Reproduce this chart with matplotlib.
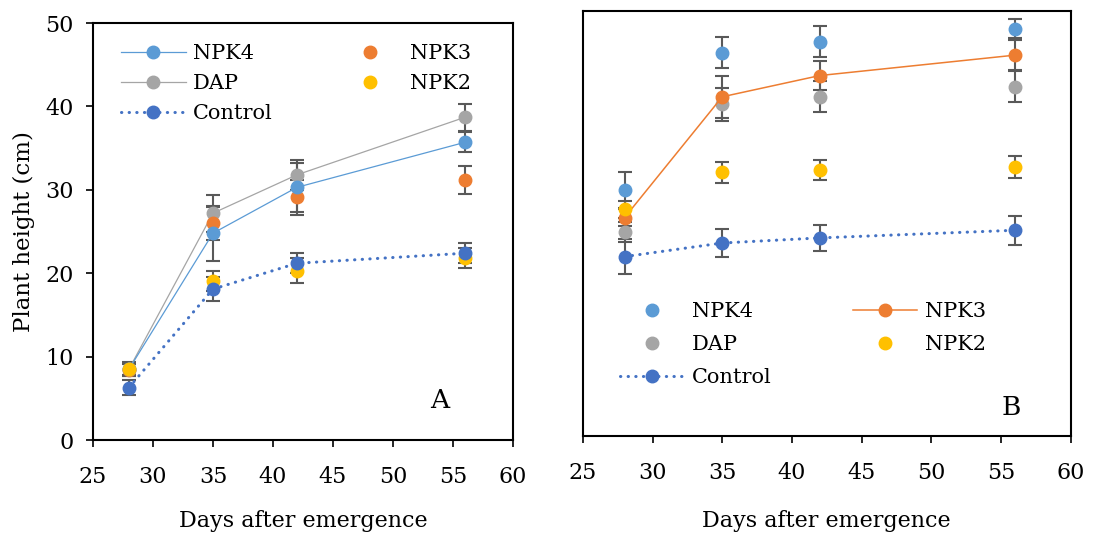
import matplotlib
matplotlib.use("Agg")
import matplotlib.pyplot as plt
from matplotlib.lines import Line2D

plt.rcParams['font.family'] = ['DejaVu Serif']

days = [28, 35, 42, 56]

# Panel A
npk4_a = [8.5, 24.8, 30.3, 35.7]
npk4_a_err = [0.7, 3.3, 2.9, 1.2]
dap_a = [8.5, 27.2, 31.8, 38.7]
dap_a_err = [0.7, 2.2, 1.8, 1.6]
npk3_a = [8.4, 26.0, 29.1, 31.2]
npk3_a_err = [0.7, 2.0, 2.1, 1.7]
npk2_a = [8.5, 19.1, 20.3, 21.8]
npk2_a_err = [0.8, 1.2, 1.5, 1.2]
control_a = [6.3, 18.1, 21.2, 22.4]
control_a_err = [0.9, 1.4, 1.2, 1.2]

# Panel B
npk4_b = [28.9, 45.1, 46.4, 47.9]
npk4_b_err = [2.1, 1.8, 1.8, 1.1]
npk3_b = [25.7, 39.9, 42.4, 44.8]
npk3_b_err = [1.0, 2.5, 1.7, 1.8]
dap_b = [24.0, 39.0, 39.9, 41.1]
dap_b_err = [1.2, 1.9, 1.8, 1.8]
npk2_b = [26.7, 31.0, 31.3, 31.6]
npk2_b_err = [1.0, 1.2, 1.2, 1.3]
control_b = [21.1, 22.7, 23.3, 24.2]
control_b_err = [2.1, 1.6, 1.5, 1.7]

x_ticks = [25, 30, 35, 40, 45, 50, 55, 60]
y_ticks = [0, 10, 20, 30, 40, 50]

C_NPK4 = '#5B9BD5'
C_NPK3 = '#ED7D31'
C_DAP = '#A5A5A5'
C_NPK2 = '#FFC000'
C_CTRL = '#4472C4'
C_ERR = '#595959'

MS = 9
DOT = dict(linestyle=(0, (0.1, 2.4)), dash_capstyle='round', linewidth=2.2)

fig = plt.figure(figsize=(11.08, 5.36), dpi=100)
axA = fig.add_axes([0.0839, 0.179, 0.379, 0.778])
axB = fig.add_axes([0.526, 0.1866, 0.4404, 0.793])


def errbars(ax, y, e):
    ax.errorbar(days, y, yerr=e, fmt='none', ecolor=C_ERR, elinewidth=1.5,
                capsize=4.7, capthick=1.5, zorder=2)


def style(ax, show_y, xpad, labelpad):
    ax.set_xlim(25, 60)
    ax.set_ylim(0, 50)
    ax.set_xticks(x_ticks)
    for s in ax.spines.values():
        s.set_linewidth(1.5)
        s.set_color('black')
    ax.tick_params(axis='x', direction='out', length=5, width=1.2,
                   labelsize=16, pad=xpad)
    if show_y:
        ax.set_yticks(y_ticks)
        ax.tick_params(axis='y', direction='out', length=5, width=1.2,
                       labelsize=16, pad=9)
    else:
        ax.set_yticks([])
    ax.set_xlabel('Days after emergence', fontsize=16, labelpad=labelpad)


# ---- Panel A ----
for y, e in [(dap_a, dap_a_err), (npk3_a, npk3_a_err), (npk4_a, npk4_a_err),
             (npk2_a, npk2_a_err), (control_a, control_a_err)]:
    errbars(axA, y, e)
axA.plot(days, dap_a, color=C_DAP, lw=0.9, marker='o', ms=MS, mec=C_DAP, zorder=3)
axA.plot(days, npk3_a, linestyle='none', marker='o', ms=MS, color=C_NPK3, zorder=3)
axA.plot(days, npk4_a, color=C_NPK4, lw=0.9, marker='o', ms=MS, zorder=3)
axA.plot(days, npk2_a, linestyle='none', marker='o', ms=MS, color=C_NPK2, zorder=3)
axA.plot(days, control_a, color=C_CTRL, marker='o', ms=MS, zorder=4, **DOT)
style(axA, True, 13.5, 16)
axA.set_ylabel('Plant height (cm)', fontsize=16.5, labelpad=7)
axA.text(0.826, 0.096, 'A', transform=axA.transAxes, fontsize=19,
         ha='center', va='center')

# ---- Panel B ----
for y, e in [(dap_b, dap_b_err), (npk3_b, npk3_b_err), (npk4_b, npk4_b_err),
             (npk2_b, npk2_b_err), (control_b, control_b_err)]:
    errbars(axB, y, e)
axB.plot(days, dap_b, linestyle='none', marker='o', ms=MS, color=C_DAP, zorder=3)
axB.plot(days, npk3_b, color=C_NPK3, lw=1.1, marker='o', ms=MS, zorder=3)
axB.plot(days, npk4_b, linestyle='none', marker='o', ms=MS, color=C_NPK4, zorder=3)
axB.plot(days, npk2_b, linestyle='none', marker='o', ms=MS, color=C_NPK2, zorder=3)
axB.plot(days, control_b, color=C_CTRL, marker='o', ms=MS, zorder=4, **DOT)
style(axB, False, 14, 18.3)
axB.text(0.877, 0.068, 'B', transform=axB.transAxes, fontsize=19,
         ha='center', va='center')


def h_line(c, lw):
    return Line2D([], [], color=c, lw=lw, marker='o', ms=MS)


def h_mark(c):
    return Line2D([], [], color=c, linestyle='none', marker='o', ms=MS)


def h_ctrl():
    return Line2D([], [], color=C_CTRL, marker='o', ms=MS, **DOT)


LEG = dict(frameon=False, fontsize=15, borderpad=0, borderaxespad=0,
           handlelength=3.1, handletextpad=0.35, numpoints=1, loc='upper left')

# legends A
l1 = axA.legend([h_line(C_NPK4, 0.9), h_line(C_DAP, 0.9), h_ctrl()],
                ['NPK4', 'DAP', 'Control'], bbox_to_anchor=(0.0667, 0.95),
                labelspacing=0.53, **LEG)
axA.add_artist(l1)
axA.legend([h_mark(C_NPK3), h_mark(C_NPK2)], ['NPK3', 'NPK2'],
           bbox_to_anchor=(0.583, 0.95), labelspacing=0.53, **LEG)

# legends B
l2 = axB.legend([h_mark(C_NPK4), h_mark(C_DAP), h_ctrl()],
                ['NPK4', 'DAP', 'Control'], bbox_to_anchor=(0.0758, 0.315),
                labelspacing=0.68, **LEG)
axB.add_artist(l2)
axB.legend([h_line(C_NPK3, 1.1), h_mark(C_NPK2)], ['NPK3', 'NPK2'],
           bbox_to_anchor=(0.553, 0.315), labelspacing=0.68, **LEG)

fig.savefig('out.png', dpi=100)
